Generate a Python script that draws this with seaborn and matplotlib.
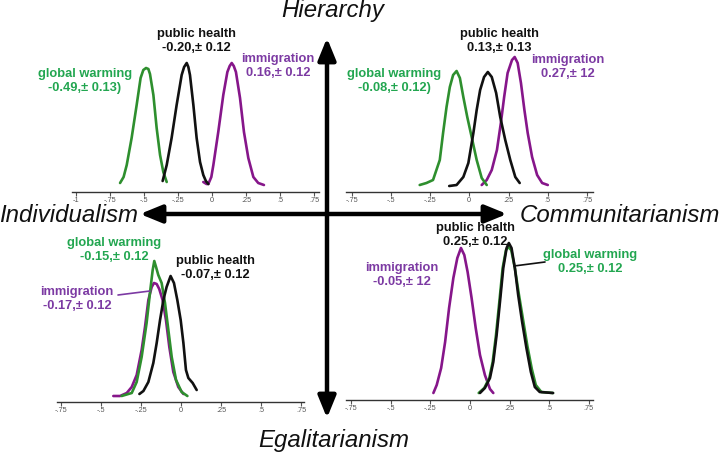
import pandas as pd
import matplotlib
matplotlib.use("Agg")
import matplotlib.pyplot as plt
import seaborn as sns

# curve samples: x = score, h = curve height (px above axis)
# Hierarchy / Individualism (top left)
hi_warming_x = [-0.676, -0.650, -0.627, -0.591, -0.554, -0.525, -0.505, -0.485, -0.468, -0.456, -0.431, -0.407, -0.382, -0.358, -0.333]
hi_warming_h = [9, 15, 27, 54, 87, 114, 122, 124, 123, 118, 97, 64, 37, 20, 10]
hi_health_x = [-0.363, -0.333, -0.297, -0.26, -0.223, -0.205, -0.186, -0.174, -0.162, -0.137, -0.113, -0.088, -0.064, -0.045, -0.027]
hi_health_h = [11, 27, 54, 87, 117, 125, 129, 125, 117, 87, 54, 30, 17, 11, 8]
hi_immig_x = [-0.064, -0.040, -0.027, -0.005, 0.01, 0.046, 0.083, 0.113, 0.130, 0.145, 0.160, 0.176, 0.206, 0.235, 0.267, 0.304, 0.34, 0.382]
hi_immig_h = [10, 8, 8, 15, 27, 60, 97, 120, 126, 129, 126, 120, 94, 60, 34, 15, 9, 7]

# Hierarchy / Communitarianism (top right)
hc_warming_x = [-0.316, -0.273, -0.231, -0.188, -0.167, -0.145, -0.124, -0.103, -0.081, -0.06, -0.038, -0.013, 0.015, 0.047, 0.079, 0.111]
hc_warming_h = [7, 9, 12, 32, 59, 85, 105, 117, 121, 114, 95, 75, 55, 32, 14, 7]
hc_health_x = [-0.128, -0.081, -0.038, -0.006, 0.026, 0.047, 0.069, 0.094, 0.118, 0.143, 0.171, 0.197, 0.229, 0.261, 0.293, 0.321]
hc_health_h = [6, 7, 15, 29, 59, 82, 102, 115, 120, 115, 99, 75, 52, 32, 15, 9]
hc_immig_x = [0.079, 0.111, 0.143, 0.176, 0.201, 0.222, 0.244, 0.272, 0.289, 0.308, 0.329, 0.351, 0.372, 0.4, 0.432, 0.464, 0.5]
hc_immig_h = [7, 12, 22, 42, 69, 95, 119, 132, 135, 129, 109, 82, 59, 35, 17, 9, 7]

# Egalitarianism / Individualism (bottom left)
ei_warming_x = [-0.371, -0.308, -0.277, -0.246, -0.215, -0.194, -0.177, -0.167, -0.156, -0.142, -0.121, -0.1, -0.079, -0.058, -0.031, 0.004, 0.04]
ei_warming_h = [6, 9, 20, 45, 79, 109, 132, 141, 135, 127, 119, 99, 72, 45, 22, 10, 6]
ei_health_x = [-0.26, -0.235, -0.204, -0.173, -0.152, -0.131, -0.11, -0.09, -0.065, -0.044, -0.023, -0.002, 0.015, 0.031, 0.046, 0.073, 0.098]
ei_health_h = [8, 11, 20, 39, 59, 82, 102, 115, 126, 119, 102, 82, 59, 32, 24, 19, 12]
ei_immig_x = [-0.423, -0.381, -0.339, -0.308, -0.277, -0.246, -0.225, -0.204, -0.183, -0.169, -0.152, -0.136, -0.115, -0.094, -0.073, -0.048, -0.017, 0.015]
ei_immig_h = [6, 6, 9, 15, 27, 52, 75, 102, 115, 119, 118, 113, 102, 82, 55, 30, 15, 8]

# Egalitarianism / Communitarianism (bottom right)
ec_warming_x = [0.055, 0.09, 0.122, 0.143, 0.164, 0.185, 0.206, 0.227, 0.241, 0.26, 0.283, 0.308, 0.335, 0.362, 0.39, 0.415, 0.45, 0.524]
ec_warming_h = [7, 12, 22, 38, 65, 98, 132, 150, 153, 150, 132, 106, 80, 54, 31, 15, 8, 7]
ec_health_x = [0.063, 0.094, 0.126, 0.147, 0.168, 0.189, 0.21, 0.231, 0.245, 0.262, 0.283, 0.304, 0.329, 0.356, 0.384, 0.409, 0.44, 0.524]
ec_health_h = [7, 12, 22, 38, 65, 98, 132, 152, 157, 152, 132, 105, 78, 52, 28, 13, 8, 7]
ec_immig_x = [-0.231, -0.21, -0.182, -0.157, -0.132, -0.105, -0.08, -0.057, -0.036, -0.015, 0.01, 0.036, 0.063, 0.094, 0.126, 0.147]
ec_immig_h = [7, 15, 32, 58, 92, 122, 142, 152, 145, 128, 102, 72, 45, 25, 11, 7]

ticks_wide = [-1, -0.75, -0.5, -0.25, 0, 0.25, 0.5, 0.75]
ticklabels_wide = ["-1", "-.75", "-.5", "-.25", "0", ".25", ".5", ".75"]
ticks = [-0.75, -0.5, -0.25, 0, 0.25, 0.5, 0.75]
ticklabels = ["-.75", "-.5", "-.25", "0", ".25", ".5", ".75"]

# annotation texts
hi_labels = ["global warming\n-0.49,\u00b1 0.13)", "public health\n-0.20,\u00b1 0.12", "immigration\n0.16,\u00b1 0.12"]
hc_labels = ["global warming\n-0.08,\u00b1 0.12)", "public health\n0.13,\u00b1 0.13", "immigration\n0.27,\u00b1 12"]
ei_labels = ["global warming\n-0.15,\u00b1 0.12", "public health\n-0.07,\u00b1 0.12", "immigration\n-0.17,\u00b1 0.12"]
ec_labels = ["global warming\n0.25,\u00b1 0.12", "public health\n0.25,\u00b1 0.12", "immigration\n-0.05,\u00b1 12"]
axis_names = ["Hierarchy", "Egalitarianism", "Individualism", "Communitarianism"]

curve_pal = {"immigration": "#86168a", "global warming": "#2e8f2e", "public health": "#111111"}
text_pal = {"immigration": "#7c3aa3", "global warming": "#22a650", "public health": "#111111"}
order = ["immigration", "global warming", "public health"]

sns.set_style("white")
plt.rcParams["font.family"] = ["Liberation Sans", "DejaVu Sans"]

W, H = 720, 454
fig = plt.figure(figsize=(7.2, 4.54), dpi=100)


def panel(left, right, base, zero, scale, data, tks, tlabs):
    ax = fig.add_axes([left / W, (H - base) / H, (right - left) / W, 170 / H])
    rows = []
    for name, xs, hs in data:
        for x, h in zip(xs, hs):
            rows.append({"issue": name, "x": x, "h": h})
    df = pd.DataFrame(rows)
    for name in order:
        sub = df[df.issue == name]
        sns.lineplot(data=sub, x="x", y="h", color=curve_pal[name], lw=1.9,
                     sort=False, ax=ax, legend=False)
    ax.set_xlim((left - zero) / scale, (right - zero) / scale)
    ax.set_ylim(0, 170)
    ax.set_xticks(tks)
    ax.set_xticklabels(tlabs)
    ax.set_yticks([])
    ax.set_xlabel("")
    ax.set_ylabel("")
    sns.despine(ax=ax, left=True)
    ax.spines["bottom"].set_color("#333333")
    ax.spines["bottom"].set_linewidth(1.0)
    ax.tick_params(axis="x", direction="out", length=3, width=0.8, color="#555555",
                   labelsize=5.3, labelcolor="#555555", pad=0.8, bottom=True)
    ax.patch.set_alpha(0)
    return ax


panel(72, 319, 192, 212, 136,
      [("global warming", hi_warming_x, hi_warming_h), ("public health", hi_health_x, hi_health_h),
       ("immigration", hi_immig_x, hi_immig_h)], ticks_wide, ticklabels_wide)
panel(346, 593, 192, 469.3, 157,
      [("global warming", hc_warming_x, hc_warming_h), ("public health", hc_health_x, hc_health_h),
       ("immigration", hc_immig_x, hc_immig_h)], ticks, ticklabels)
panel(57, 304, 402, 181, 160,
      [("global warming", ei_warming_x, ei_warming_h), ("public health", ei_health_x, ei_health_h),
       ("immigration", ei_immig_x, ei_immig_h)], ticks, ticklabels)
panel(346, 593, 400, 470, 158.5,
      [("global warming", ec_warming_x, ec_warming_h), ("public health", ec_health_x, ec_health_h),
       ("immigration", ec_immig_x, ec_immig_h)], ticks, ticklabels)

# overlay in pixel coordinates for arrows and labels
ov = fig.add_axes([0, 0, 1, 1])
ov.set_xlim(0, W)
ov.set_ylim(H, 0)
ov.axis("off")
ov.patch.set_alpha(0)

arrow = dict(arrowstyle="<|-|>,head_length=1.1,head_width=0.45", lw=3.2, color="black",
             shrinkA=0, shrinkB=0, mutation_scale=12)
ov.annotate("", xy=(327, 38), xytext=(327, 418), arrowprops=arrow)
ov.annotate("", xy=(140, 214), xytext=(507, 214), arrowprops=arrow)

big = dict(fontsize=17.3, style="italic", color="#111111", ha="center", va="center")
ov.text(333, 10, axis_names[0], **big)
ov.text(334, 440, axis_names[1], **big)
ov.text(69, 215, axis_names[2], **big)
ov.text(620, 216, axis_names[3], **big)

lab = dict(fontsize=9.3, fontweight="bold", ha="center", va="center", linespacing=1.2)
spots = [
    (hi_labels, [(85, 81), (196, 41), (278, 66)]),
    (hc_labels, [(394, 81), (499, 41), (568, 67)]),
    (ei_labels, [(114, 250), (215, 268), (77, 299)]),
    (ec_labels, [(590, 262), (475, 235), (402, 275)]),
]
names = ["global warming", "public health", "immigration"]
for texts, pos in spots:
    for t, (x, y), n in zip(texts, pos, names):
        ov.text(x, y, t, color=text_pal[n], **lab)

ov.plot([118, 150], [295, 291], color=text_pal["immigration"], lw=1.2)
ov.plot([514, 545], [266, 262], color="#111111", lw=1.2)

fig.savefig("out.png", dpi=100)
